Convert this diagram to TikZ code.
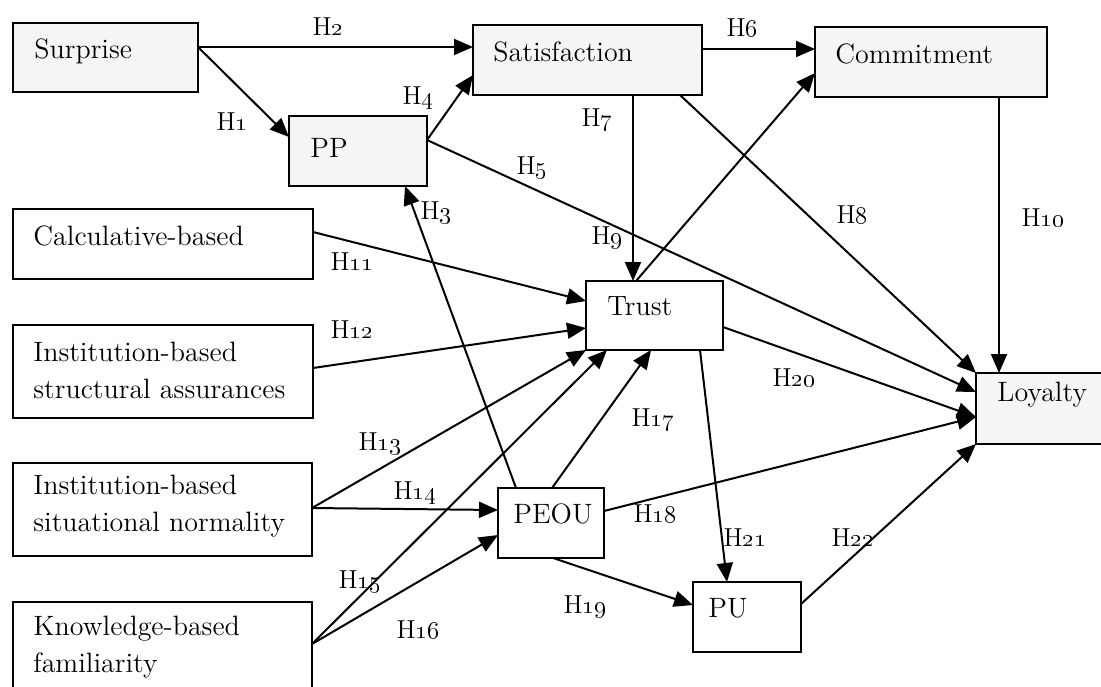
\documentclass[tikz,border=0pt]{standalone}
\usetikzlibrary{arrows.meta,calc}
\newcommand\hlabel[1]{H\oldstylenums{#1}}
\begin{document}
\begin{tikzpicture}[x=0.5pt,y=-0.5pt,
  box/.style={draw, line width=1.3pt, inner sep=0pt, outer sep=0pt},
  shaded/.style={box, fill=black!4},
  txt/.style={font=\fontsize{14}{18.2}\selectfont, inner sep=0pt, align=left, anchor=base west},
  hyp/.style={font=\fontsize{13}{15}\selectfont, inner sep=0pt},
  link/.style={line width=1pt, -{Triangle[length=9.5pt,width=8pt]}},
]
\useasboundingbox (0,0) rectangle (1101,686);
\clip (0,0) rectangle (1101,686);

% construct boxes
\node[shaded, minimum width=92.5pt, minimum height=34.5pt] (surprise) at (105.5,57.5) {};
\node[shaded, minimum width=69pt,   minimum height=35pt]   (pp)       at (358,151) {};
\node[shaded, minimum width=114.5pt,minimum height=35pt]   (sat)      at (587.5,60) {};
\node[shaded, minimum width=116pt,  minimum height=35pt]   (com)      at (931,62) {};
\node[box,    minimum width=150pt,  minimum height=35pt]   (calc)     at (163,244) {};
\node[box,    minimum width=150pt,  minimum height=46.5pt] (struct)   at (163,371.5) {};
\node[box,    minimum width=149.5pt,minimum height=46.5pt] (sit)      at (162.5,509.5) {};
\node[box,    minimum width=149.5pt,minimum height=60pt]   (know)     at (162.5,662) {};
\node[box,    minimum width=68.5pt, minimum height=34.5pt] (trust)    at (654.5,315.5) {};
\node[box,    minimum width=53pt,   minimum height=35pt]   (peou)     at (551,523) {};
\node[box,    minimum width=54pt,   minimum height=35pt]   (pu)       at (747,617) {};
\node[shaded, minimum width=72pt,   minimum height=35.5pt] (loyal)    at (1048,408.5) {};

% box captions (multi-line captions are placed by their last baseline)
\node[txt] (tsurprise) at (34,58)   {Surprise};
\node[txt] (tpp)       at (310,157) {PP};
\node[txt] (tsat)      at (493,61)  {Satisfaction};
\node[txt] (tcom)      at (835,63)  {Commitment};
\node[txt] (tcalc)     at (33,245)  {Calculative-based};
\node[txt] (tstruct)   at (33,398)  {Institution-based\\structural assurances};
\node[txt] (tsit)      at (33,531)  {Institution-based\\situational normality};
\node[txt] (tknow)     at (33,672)  {Knowledge-based\\familiarity};
\node[txt] (ttrust)    at (607,315) {Trust};
\node[txt] (tpeou)     at (513,523) {PEOU};
\node[txt] (tpu)       at (708,617) {PU};
\node[txt] (tloyal)    at (997,401) {Loyalty};

% hypothesised paths
\draw[link] ($(surprise.north east)+(0,24)$) -- ($(pp.north west)+(0,21)$);
\draw[link] ($(surprise.north east)+(0,24)$) -- ($(sat.north west)+(0,22)$);
\draw[link] ($(peou.north west)+(18,0)$)     -- ($(pp.south west)+(116,0)$);
\draw[link] ($(pp.north east)+(0,24)$)       -- ($(sat.north west)+(0,50)$);
\draw[link] ($(pp.north east)+(0,24)$)       -- ($(loyal.north west)+(0,19)$);
\draw[link] ($(sat.north east)+(0,24)$)      -- ($(com.north west)+(0,22)$);
\draw[link] ($(sat.south west)+(160,0)$)     -- ($(trust.north west)+(47,0)$);
\draw[link] ($(sat.south west)+(207,0)$)     -- (loyal.north west);
\draw[link] ($(trust.north west)+(50,0)$)    -- ($(com.north west)+(0,46)$);
\draw[link] ($(com.south west)+(184,0)$)     -- ($(loyal.north west)+(23,0)$);
\draw[link] ($(calc.north east)+(0,23)$)     -- ($(trust.north west)+(0,20)$);
\draw[link] ($(struct.north east)+(0,43)$)   -- ($(trust.north west)+(0,47)$);
\draw[link] ($(sit.north east)+(0,45)$)      -- (trust.south west);
\draw[link] ($(sit.north east)+(0,45)$)      -- ($(peou.north west)+(0,22)$);
\draw[link] ($(know.north east)+(0,42)$)     -- ($(trust.south west)+(21,0)$);
\draw[link] ($(know.north east)+(0,42)$)     -- ($(peou.south west)+(0,-23)$);
\draw[link] ($(peou.north west)+(54,0)$)     -- ($(trust.south west)+(65,0)$);
\draw[link] ($(peou.north east)+(0,23)$)     -- ($(loyal.north west)+(0,44)$);
\draw[link] ($(peou.south west)+(55,0)$)     -- ($(pu.north west)+(0,23)$);
\draw[link] ($(trust.north east)+(0,46)$)    -- ($(loyal.north west)+(0,44)$);
\draw[link] ($(trust.south west)+(114,0)$)   -- ($(pu.north west)+(34,0)$);
\draw[link] ($(pu.north east)+(0,22)$)       -- (loyal.south west);

% hypothesis labels
\node[hyp] (h1)  at (232,122)  {\hlabel{1}};
\node[hyp] (h2)  at (328,27)   {\hlabel{2}};
\node[hyp] (h3)  at (436,213)  {\hlabel{3}};
\node[hyp] (h4)  at (418,98)   {\hlabel{4}};
\node[hyp] (h5)  at (532,168)  {\hlabel{5}};
\node[hyp] (h6)  at (742,28)   {\hlabel{6}};
\node[hyp] (h7)  at (597,120)  {\hlabel{7}};
\node[hyp] (h8)  at (852,215)  {\hlabel{8}};
\node[hyp] (h9)  at (607,238)  {\hlabel{9}};
\node[hyp] (h10) at (1043,218) {\hlabel{10}};
\node[hyp] (h11) at (352,262)  {\hlabel{11}};
\node[hyp] (h12) at (352,330)  {\hlabel{12}};
\node[hyp] (h13) at (380,444)  {\hlabel{13}};
\node[hyp] (h14) at (415,493)  {\hlabel{14}};
\node[hyp] (h15) at (360,582)  {\hlabel{15}};
\node[hyp] (h16) at (418,630)  {\hlabel{16}};
\node[hyp] (h17) at (653,420)  {\hlabel{17}};
\node[hyp] (h18) at (655,514)  {\hlabel{18}};
\node[hyp] (h19) at (585,607)  {\hlabel{19}};
\node[hyp] (h20) at (794,378)  {\hlabel{20}};
\node[hyp] (h21) at (745,538)  {\hlabel{21}};
\node[hyp] (h22) at (853,538)  {\hlabel{22}};
\end{tikzpicture}
\end{document}
